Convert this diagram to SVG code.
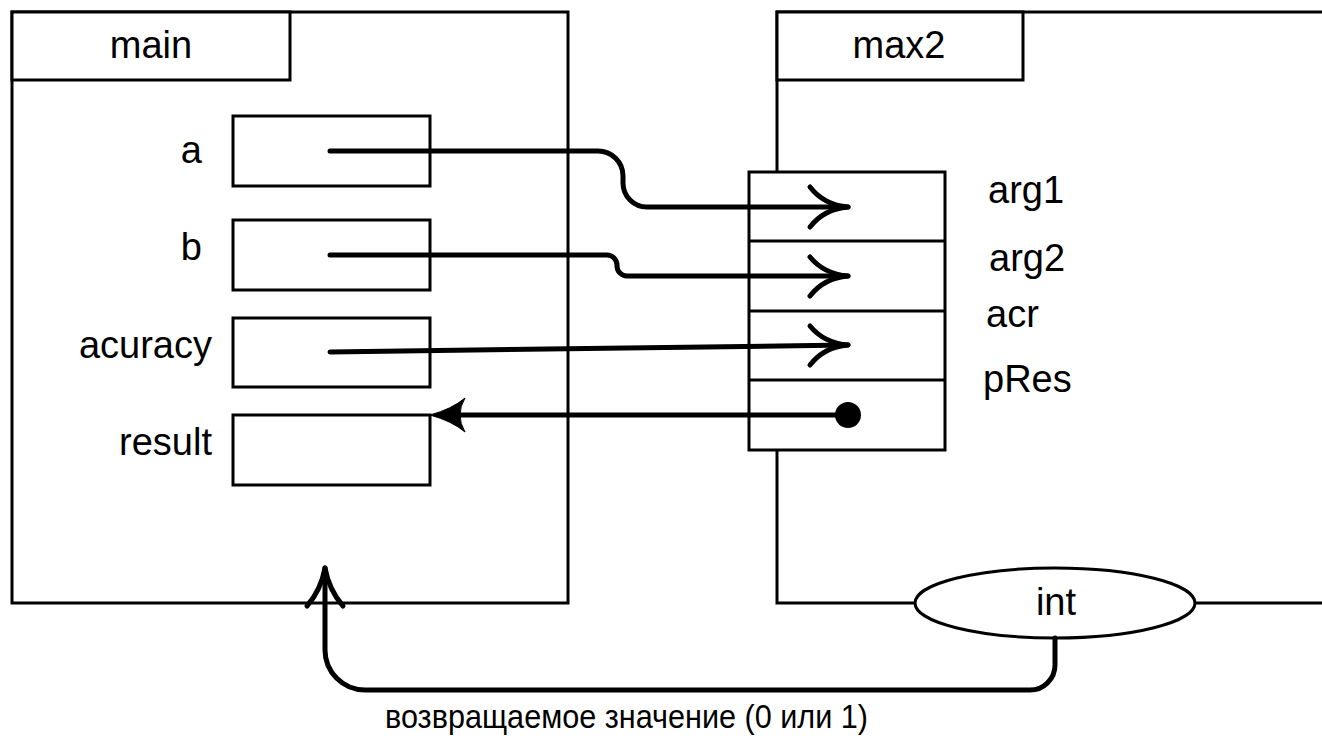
<svg xmlns="http://www.w3.org/2000/svg" width="1322" height="748" viewBox="0 0 1322 748">
<style>
.frame{fill:#fff;stroke:#000;stroke-width:3}
.box{fill:#fff;stroke:#000;stroke-width:3}
.t{font-family:"Liberation Sans",Arial,sans-serif;font-size:38px;fill:#000}
.s{font-size:34px}
.c{text-anchor:middle}
.r{text-anchor:end}
.w{fill:none;stroke:#000;stroke-width:5;stroke-linecap:round;stroke-linejoin:round}
</style>
<rect width="1322" height="748" fill="#fff"/>
<g id="main">
<rect class="frame" x="12" y="12" width="556" height="591"/>
<rect class="frame" x="12" y="12" width="278" height="68"/>
<text class="t c" x="151" y="58">main</text>
</g>
<g id="max2">
<path class="frame" d="M1330,12 H777 V603 H1330"/>
<rect class="frame" x="777" y="12" width="246" height="68"/>
<text class="t c" x="899" y="58">max2</text>
</g>
<g id="var-a"><rect class="box" x="233" y="116" width="197" height="70"/><text class="t r" x="202" y="163">a</text></g>
<g id="var-b"><rect class="box" x="233" y="220" width="197" height="70"/><text class="t r" x="202" y="260">b</text></g>
<g id="var-acuracy"><rect class="box" x="233" y="318" width="197" height="69"/><text class="t r" x="212" y="358">acuracy</text></g>
<g id="var-result"><rect class="box" x="233" y="415" width="197" height="70"/><text class="t r" x="212" y="455">result</text></g>
<g id="params">
<rect class="box" x="749" y="172" width="196" height="278"/>
<line x1="749" y1="241" x2="945" y2="241" stroke="#000" stroke-width="3"/>
<line x1="749" y1="311" x2="945" y2="311" stroke="#000" stroke-width="3"/>
<line x1="749" y1="380" x2="945" y2="380" stroke="#000" stroke-width="3"/>
<text class="t" x="988" y="203">arg1</text>
<text class="t" x="989" y="271">arg2</text>
<text class="t" x="986" y="327">acr</text>
<text class="t" x="983" y="392">pRes</text>
</g>
<g id="ret-int">
<ellipse cx="1055" cy="603" rx="140" ry="35" fill="#fff" stroke="#000" stroke-width="3"/>
<text class="t c" x="1056" y="615">int</text>
</g>
<g id="connectors">
<path class="w" d="M330,151 H598 A25,25 0 0 1 623,176 V183 A24,24 0 0 0 647,207 H848"/>
<path class="w" d="M810,187 Q824,205 848,207 M810,227 Q824,209 848,207"/>
<path class="w" d="M330,255 H607 A10,10 0 0 1 617,265 V266 A10,10 0 0 0 627,276 H848"/>
<path class="w" d="M810,257 Q824,274 848,276 M810,296 Q824,278 848,276"/>
<path class="w" d="M330,352 L848,345"/>
<path class="w" d="M810,326 Q824,343 848,345 M810,365 Q824,347 848,345"/>
<path class="w" d="M848,415 H450"/>
<circle cx="848" cy="415" r="13" fill="#000"/>
<path d="M430,415 Q452,409 465,398 Q455,415 465,432 Q452,421 430,415 Z" fill="#000" stroke="#000" stroke-width="1"/>
<path class="w" d="M1055,638 V665 A25,25 0 0 1 1030,690 H365 A40,40 0 0 1 325,650 V568"/>
<path class="w" d="M307,606 Q321,590 325,568 M343,606 Q329,590 325,568"/>
</g>
<text class="t s" x="385" y="728" textLength="483" lengthAdjust="spacingAndGlyphs">возвращаемое значение (0 или 1)</text>
</svg>
